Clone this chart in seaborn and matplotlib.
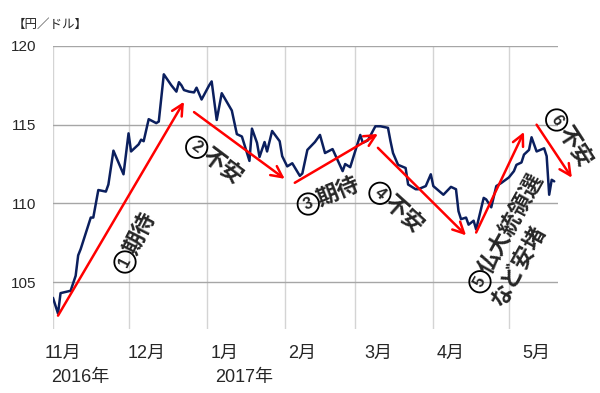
import numpy as np
import pandas as pd
import matplotlib
matplotlib.use("Agg")
import matplotlib.pyplot as plt
import matplotlib.dates as mdates
import seaborn as sns

# ドル円レート（読み取り値）
dates = [
    "2016-11-01", "2016-11-03", "2016-11-04", "2016-11-08", "2016-11-10", "2016-11-11",
    "2016-11-12", "2016-11-16", "2016-11-17", "2016-11-19", "2016-11-22", "2016-11-23",
    "2016-11-25", "2016-11-29", "2016-12-01", "2016-12-02", "2016-12-05", "2016-12-06",
    "2016-12-07", "2016-12-09", "2016-12-12", "2016-12-13", "2016-12-15", "2016-12-18",
    "2016-12-20", "2016-12-21", "2016-12-22", "2016-12-23", "2016-12-25", "2016-12-27",
    "2016-12-28", "2016-12-30", "2017-01-02", "2017-01-03", "2017-01-05", "2017-01-07",
    "2017-01-11", "2017-01-13", "2017-01-15", "2017-01-18", "2017-01-19", "2017-01-21",
    "2017-01-22", "2017-01-24", "2017-01-25", "2017-01-27", "2017-01-30", "2017-01-31",
    "2017-02-02", "2017-02-04", "2017-02-07", "2017-02-08", "2017-02-10", "2017-02-13",
    "2017-02-15", "2017-02-17", "2017-02-20", "2017-02-24", "2017-02-25", "2017-02-27",
    "2017-03-03", "2017-03-04", "2017-03-06", "2017-03-09", "2017-03-11", "2017-03-14",
    "2017-03-15", "2017-03-16", "2017-03-18", "2017-03-21", "2017-03-22", "2017-03-25",
    "2017-03-26", "2017-03-29", "2017-03-31", "2017-04-01", "2017-04-05", "2017-04-08",
    "2017-04-10", "2017-04-11", "2017-04-12", "2017-04-14", "2017-04-15", "2017-04-17",
    "2017-04-18", "2017-04-21", "2017-04-22", "2017-04-24", "2017-04-26", "2017-04-28",
    "2017-05-01", "2017-05-03", "2017-05-04", "2017-05-06", "2017-05-07", "2017-05-09",
    "2017-05-10", "2017-05-12", "2017-05-15", "2017-05-16", "2017-05-17", "2017-05-18",
    "2017-05-19",
]
rates = [
    104.0, 103.0, 104.3, 104.45, 105.4, 106.7,
    107.1, 109.1, 109.1, 110.85, 110.75, 111.2,
    113.35, 111.85, 114.45, 113.3, 113.75, 114.05,
    113.95, 115.35, 115.1, 115.2, 118.2, 117.5,
    117.1, 117.7, 117.5, 117.2, 117.1, 117.05,
    117.35, 116.6, 117.5, 117.75, 115.3, 117.0,
    115.9, 114.4, 114.25, 112.7, 114.75, 113.85,
    112.95, 113.9, 113.3, 114.6, 113.95, 113.0,
    112.35, 112.55, 111.75, 111.9, 113.4, 113.9,
    114.35, 113.2, 113.45, 112.05, 112.5, 112.3,
    114.35, 113.85, 114.0, 114.9, 114.9, 114.8,
    113.95, 113.2, 112.45, 112.25, 111.2, 110.9,
    110.9, 111.1, 111.85, 111.1, 110.55, 111.05,
    110.9, 109.5, 109.0, 109.1, 108.65, 108.9,
    108.35, 110.35, 110.25, 109.75, 111.1, 111.3,
    111.65, 112.05, 112.45, 112.6, 113.1, 113.4,
    114.2, 113.3, 113.5, 113.0, 110.55, 111.5,
    111.4,
]

month_starts = ["2016-11-01", "2016-12-01", "2017-01-01", "2017-02-01",
                "2017-03-01", "2017-04-01", "2017-05-01"]
label_dates = ["2016-11-05", "2016-12-08", "2017-01-08", "2017-02-08",
               "2017-03-10", "2017-04-08", "2017-05-12"]
month_labels = ["11月", "12月", "1月", "2月", "3月", "4月", "5月"]
year_dates = ["2016-11-12", "2017-01-16"]
year_labels = ["2016年", "2017年"]
y_ticks = [105, 110, 115, 120]

# 赤矢印（始点→終点）
arrow_from_dates = ["2016-11-03", "2016-12-27", "2017-02-05", "2017-03-10", "2017-04-18", "2017-05-12"]
arrow_from_vals = [102.87, 115.8, 111.31, 113.53, 108.15, 115.0]
arrow_to_dates = ["2016-12-23", "2017-02-01", "2017-03-10", "2017-04-14", "2017-05-07", "2017-05-26"]
arrow_to_vals = [116.46, 111.56, 114.41, 107.97, 114.54, 111.63]

# 注記（丸数字＋本文）
note_nums = ["1", "2", "3", "4", "5", "6"]
note_texts = ["期待", "不安", "期待", "不安", "仏大統領選", "不安"]
note5_line2 = "など安堵"

df = pd.DataFrame({"date": pd.to_datetime(dates), "rate": rates})

sns.set_style("white")
plt.rcParams["font.family"] = ["Liberation Sans", "Noto Sans CJK JP", "DejaVu Sans"]

fig = plt.figure(figsize=(6, 3.93), dpi=100)
ax = fig.add_axes([0.0883, 0.162, 0.8417, 0.721])

sns.lineplot(data=df, x="date", y="rate", color="#0b1f5e", linewidth=1.8, ax=ax)

ax.set_xlim(pd.Timestamp("2016-11-01"), pd.Timestamp("2017-05-20 12:00"))
ax.set_ylim(102, 120)

# グリッド
ax.set_xticks(pd.to_datetime(month_starts), minor=True)
ax.set_xticks(pd.to_datetime(label_dates))
ax.set_xticklabels(month_labels, fontsize=13)
ax.xaxis.grid(True, which="minor", color="#d4d4d4", linewidth=1)
ax.xaxis.grid(False, which="major")
ax.tick_params(axis="x", which="both", length=0, pad=11)

ax.set_yticks(y_ticks)
ax.set_yticklabels([str(v) for v in y_ticks], fontsize=11)
ax.yaxis.grid(True, color="#a6a6a6", linewidth=1)
ax.tick_params(axis="y", length=5, color="#a6a6a6", width=1, pad=7)

for s in ax.spines.values():
    s.set_visible(False)
ax.set_xlabel("")
ax.set_ylabel("")

for d, lab in zip(year_dates, year_labels):
    ax.text(pd.Timestamp(d), -0.17, lab, transform=ax.get_xaxis_transform(),
            ha="center", va="center", fontsize=13)

ax.text(-0.079, 1.074, "【円／ドル】", transform=ax.transAxes,
        ha="left", va="center", fontsize=9)

# 矢印
for d0, v0, d1, v1 in zip(arrow_from_dates, arrow_from_vals, arrow_to_dates, arrow_to_vals):
    ax.annotate("", xy=(mdates.date2num(pd.Timestamp(d1)), v1),
                xytext=(mdates.date2num(pd.Timestamp(d0)), v0),
                arrowprops=dict(arrowstyle="->,head_length=0.8,head_width=0.4",
                                color="#ff0000", lw=1.8, shrinkA=0, shrinkB=0,
                                mutation_scale=10),
                annotation_clip=False)

# 注記テキスト：丸数字の中心位置（axes fraction）と回転角
circle_pos = [(0.1426, 0.2376), (0.2846, 0.6424), (0.5055, 0.4423),
              (0.6475, 0.4801), (0.8455, 0.1680), (0.9974, 0.7388)]
note_rot = [63, -37, 22, -42, 61, -57]
cjk = ["Noto Sans CJK JP", "DejaVu Sans"]
gap = 7.0  # 丸数字中心から本文の始まりまで（pt）

for num, txt, (cx, cy), r in zip(note_nums, note_texts, circle_pos, note_rot):
    ax.text(cx, cy, num, transform=ax.transAxes, rotation=r,
            ha="center", va="center", fontsize=11.5, fontweight="bold",
            bbox=dict(boxstyle="circle,pad=0.2", fc="none", ec="black", lw=1.3))
    c, s = np.cos(np.radians(r)), np.sin(np.radians(r))
    ax.annotate(txt, xy=(cx, cy), xycoords="axes fraction",
                xytext=(gap * c, gap * s), textcoords="offset points",
                rotation=r, rotation_mode="anchor", ha="left", va="center",
                fontsize=16, fontweight="bold", family=cjk, annotation_clip=False)

# ⑤の2行目
r5 = note_rot[4]
c5, s5 = np.cos(np.radians(r5)), np.sin(np.radians(r5))
ax.annotate(note5_line2, xy=(0.8905, 0.1211), xycoords="axes fraction",
            xytext=(-8.0 * c5, -8.0 * s5), textcoords="offset points",
            rotation=r5, rotation_mode="anchor", ha="left", va="center",
            fontsize=16, fontweight="bold", family=cjk, annotation_clip=False)

fig.savefig("out.png", dpi=100)
